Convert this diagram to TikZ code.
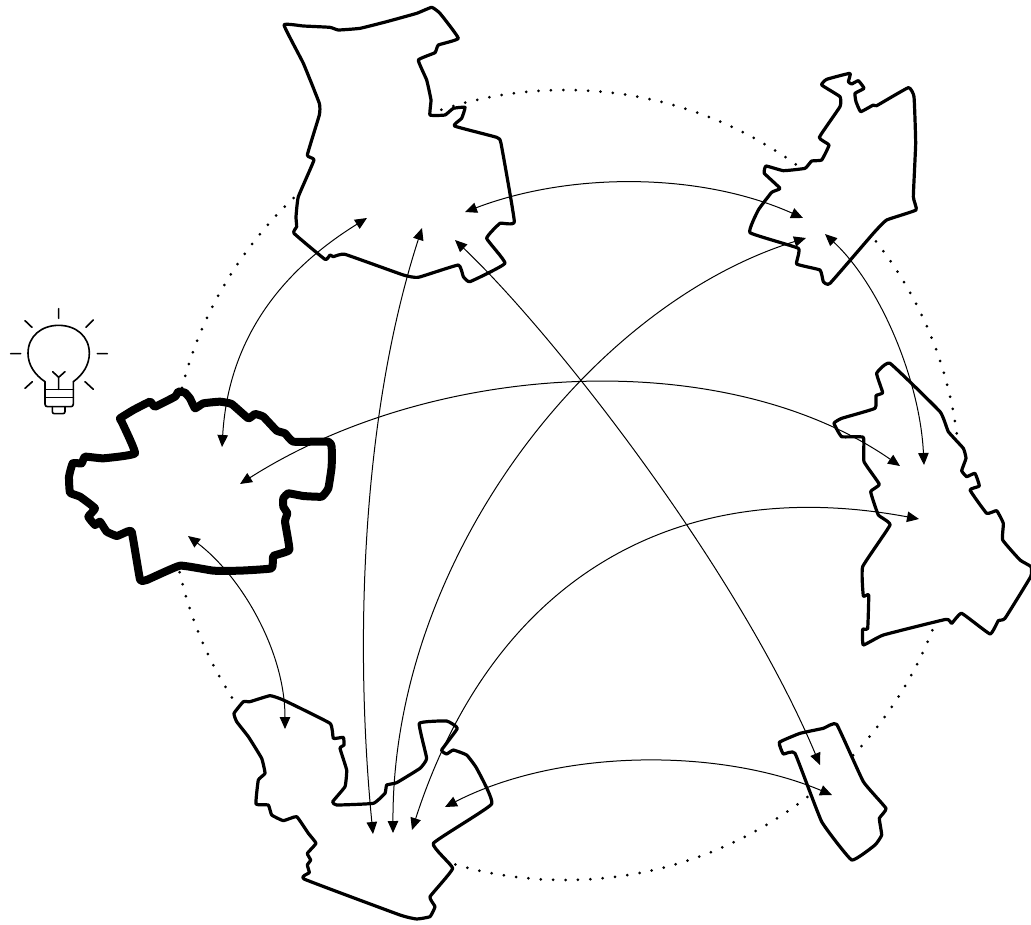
\documentclass[tikz,border=0pt]{standalone}
\usetikzlibrary{arrows.meta}
\tikzset{
  region/.style={draw=black,fill=white,line width=3.2pt,line join=round},
  homeregion/.style={draw=black,fill=white,line width=8pt,line join=round},
  ring/.style={draw=black,line width=3pt,line cap=round,dash pattern=on 0pt off 12.4pt},
  link/.style={draw=black,line width=1pt,{Triangle[length=12pt,width=10.5pt]}-{Triangle[length=12pt,width=10.5pt]}},
  bulb/.style={draw=black,line width=1.6pt,line cap=round,line join=round},
  zoomed/.style={scale=0.33333}
}
\begin{document}
\begin{tikzpicture}[x=1pt,y=-1pt]
\useasboundingbox (0,0) rectangle (1031,924);
\fill[white] (0,0) rectangle (1031,924);
% dotted ring
\coordinate (ringcentre) at (565,485);
\draw[ring] (ringcentre) circle[radius=395];
% top region
\begin{scope}[shift={(270,0)},zoomed]
\draw[region] plot[smooth cycle,tension=0.2] coordinates {(42,75)(100,78)(180,82)(205,90)(270,85)(350,65)(440,40)(485,22)(510,40)(565,115)(505,135)(495,158)(445,180)(470,240)(483,300)(480,345)(525,345)(550,325)(585,322)(575,355)(553,378)(680,412)(693,430)(733,665)(690,670)(650,715)(705,790)(600,845)(580,830)(565,795)(445,832)(400,825)(225,763)(190,770)(180,765)(165,778)(72,700)(80,680)(78,650)(85,590)(132,480)(112,465)(148,345)(148,310)(100,190)};
\end{scope}
% top right region
\begin{scope}[shift={(730,60)},zoomed]
\draw[region] plot[smooth cycle,tension=0.2] coordinates {(275,75)(290,58)(360,40)(355,65)(365,72)(385,62)(402,85)(375,100)(378,125)(392,155)(430,135)(440,137)(535,83)(552,110)(557,250)(550,410)(558,450)(470,480)(430,520)(300,670)(280,665)(270,630)(200,612)(205,565)(60,518)(85,450)(125,397)(150,385)(103,340)(108,318)(160,332)(225,325)(245,303)(275,300)(297,255)(268,232)(330,140)(330,110)};
\end{scope}
% right region
\begin{scope}[shift={(820,350)},zoomed]
\draw[region] plot[smooth cycle,tension=0.2] coordinates {(210,40)(360,185)(385,245)(430,295)(438,325)(425,362)(440,380)(465,370)(478,408)(450,420)(500,490)(530,482)(550,520)(548,570)(600,630)(633,650)(632,680)(555,805)(535,812)(510,852)(425,790)(395,820)(378,808)(190,855)(130,885)(128,838)(143,835)(146,735)(130,738)(128,650)(210,525)(175,495)(152,425)(178,403)(132,335)(130,262)(65,260)(42,220)(65,205)(165,175)(168,137)(188,128)(170,70)};
\end{scope}
% bottom right region
\begin{scope}[shift={(760,710)},zoomed]
\draw[region] plot[smooth cycle,tension=0.2] coordinates {(58,97)(120,70)(190,55)(230,43)(310,215)(378,295)(358,325)(365,375)(345,405)(275,450)(185,335)(105,130)(70,132)};
\end{scope}
% bottom region
\begin{scope}[shift={(220,680)},zoomed]
\draw[region] plot[smooth cycle,tension=0.2] coordinates {(42,100)(70,65)(90,65)(150,47)(190,60)(330,130)(340,175)(370,172)(372,195)(360,205)(380,270)(375,320)(338,365)(350,375)(460,370)(495,340)(500,315)(530,308)(600,265)(620,235)(598,130)(680,123)(712,145)(665,210)(680,222)(700,210)(740,225)(770,265)(815,372)(640,490)(698,565)(630,650)(645,680)(630,710)(590,717)(540,705)(252,597)(268,578)(262,555)(272,540)(262,520)(288,490)(265,460)(230,410)(190,422)(155,405)(145,375)(108,372)(115,300)(135,280)(125,235)(85,170)(50,125)};
\end{scope}
% left, highlighted region
\begin{scope}[shift={(0,300)},zoomed]
\draw[homeregion] plot[smooth cycle,tension=0.2] coordinates {(360,355)(400,330)(450,305)(465,320)(525,290)(535,275)(555,278)(570,295)(585,325)(610,310)(660,305)(695,312)(745,355)(765,342)(790,350)(830,392)(855,400)(880,425)(985,425)(995,440)(995,500)(985,565)(965,590)(910,588)(865,580)(850,595)(850,620)(862,640)(855,665)(868,750)(820,768)(815,805)(720,812)(640,812)(540,797)(440,840)(420,838)(395,695)(370,700)(350,708)(320,695)(300,665)(285,675)(265,650)(285,625)(240,590)(210,578)(207,530)(218,490)(245,490)(255,470)(310,475)(405,460)(365,365)};
\end{scope}
% bulb
\begin{scope}[shift={(0,300)},zoomed]
\draw[bulb] (135,245) .. controls (105,225) and (84,195) .. (84,160) .. controls (84,108) and (125,76) .. (176,76) .. controls (227,76) and (268,108) .. (268,160) .. controls (268,195) and (248,225) .. (220,245);
\draw[bulb] (135,245) -- (135,312) .. controls (135,318) and (138,320) .. (143,320) -- (212,320) .. controls (217,320) and (220,318) .. (220,312) -- (220,245);
\draw[bulb] (135,268) -- (220,268) (135,292) -- (220,292);
\draw[bulb] (157,320) -- (157,335) .. controls (157,339) and (160,341) .. (163,341) -- (188,341) .. controls (192,341) and (195,339) .. (195,335) -- (195,320);
\draw[bulb] (176,268) -- (176,232) (158,215) -- (176,232) -- (195,215);
\draw[bulb] (176,26) -- (176,55) (75,62) -- (96,82) (280,60) -- (258,82) (32,161) -- (62,161) (292,161) -- (322,161) (75,265) -- (97,245) (280,268) -- (255,245);
\end{scope}
% connector ends
\coordinate (LA) at (222,447);
\coordinate (LB) at (240,484);
\coordinate (LC) at (188,536);
\coordinate (TA) at (367,218);
\coordinate (TB) at (422,228);
\coordinate (TC) at (465,212);
\coordinate (TD) at (455,240);
\coordinate (UA) at (803,218);
\coordinate (UB) at (806,238);
\coordinate (UC) at (825,234);
\coordinate (RA) at (900,466);
\coordinate (RB) at (924,465);
\coordinate (RC) at (919,519);
\coordinate (SA) at (820,765);
\coordinate (SB) at (832,795);
\coordinate (BA) at (285,729);
\coordinate (BB) at (373,834);
\coordinate (BC) at (393,833);
\coordinate (BD) at (412,830);
\coordinate (BE) at (445,807);
% connectors
\draw[link] (LA) .. controls (228,345) and (275,275) .. (TA);
\draw[link] (LB) .. controls (435,360) and (725,345) .. (RA);
\draw[link] (LC) .. controls (240,575) and (285,650) .. (BA);
\draw[link] (TB) .. controls (360,420) and (355,650) .. (BB);
\draw[link] (TC) .. controls (570,172) and (700,172) .. (UA);
\draw[link] (TD) .. controls (555,335) and (738,570) .. (SA);
\draw[link] (UB) .. controls (590,305) and (392,560) .. (BC);
\draw[link] (UC) .. controls (880,285) and (920,380) .. (RB);
\draw[link] (RC) .. controls (666,472) and (490,588) .. (BD);
\draw[link] (BE) .. controls (560,748) and (720,748) .. (SB);
\end{tikzpicture}
\end{document}
